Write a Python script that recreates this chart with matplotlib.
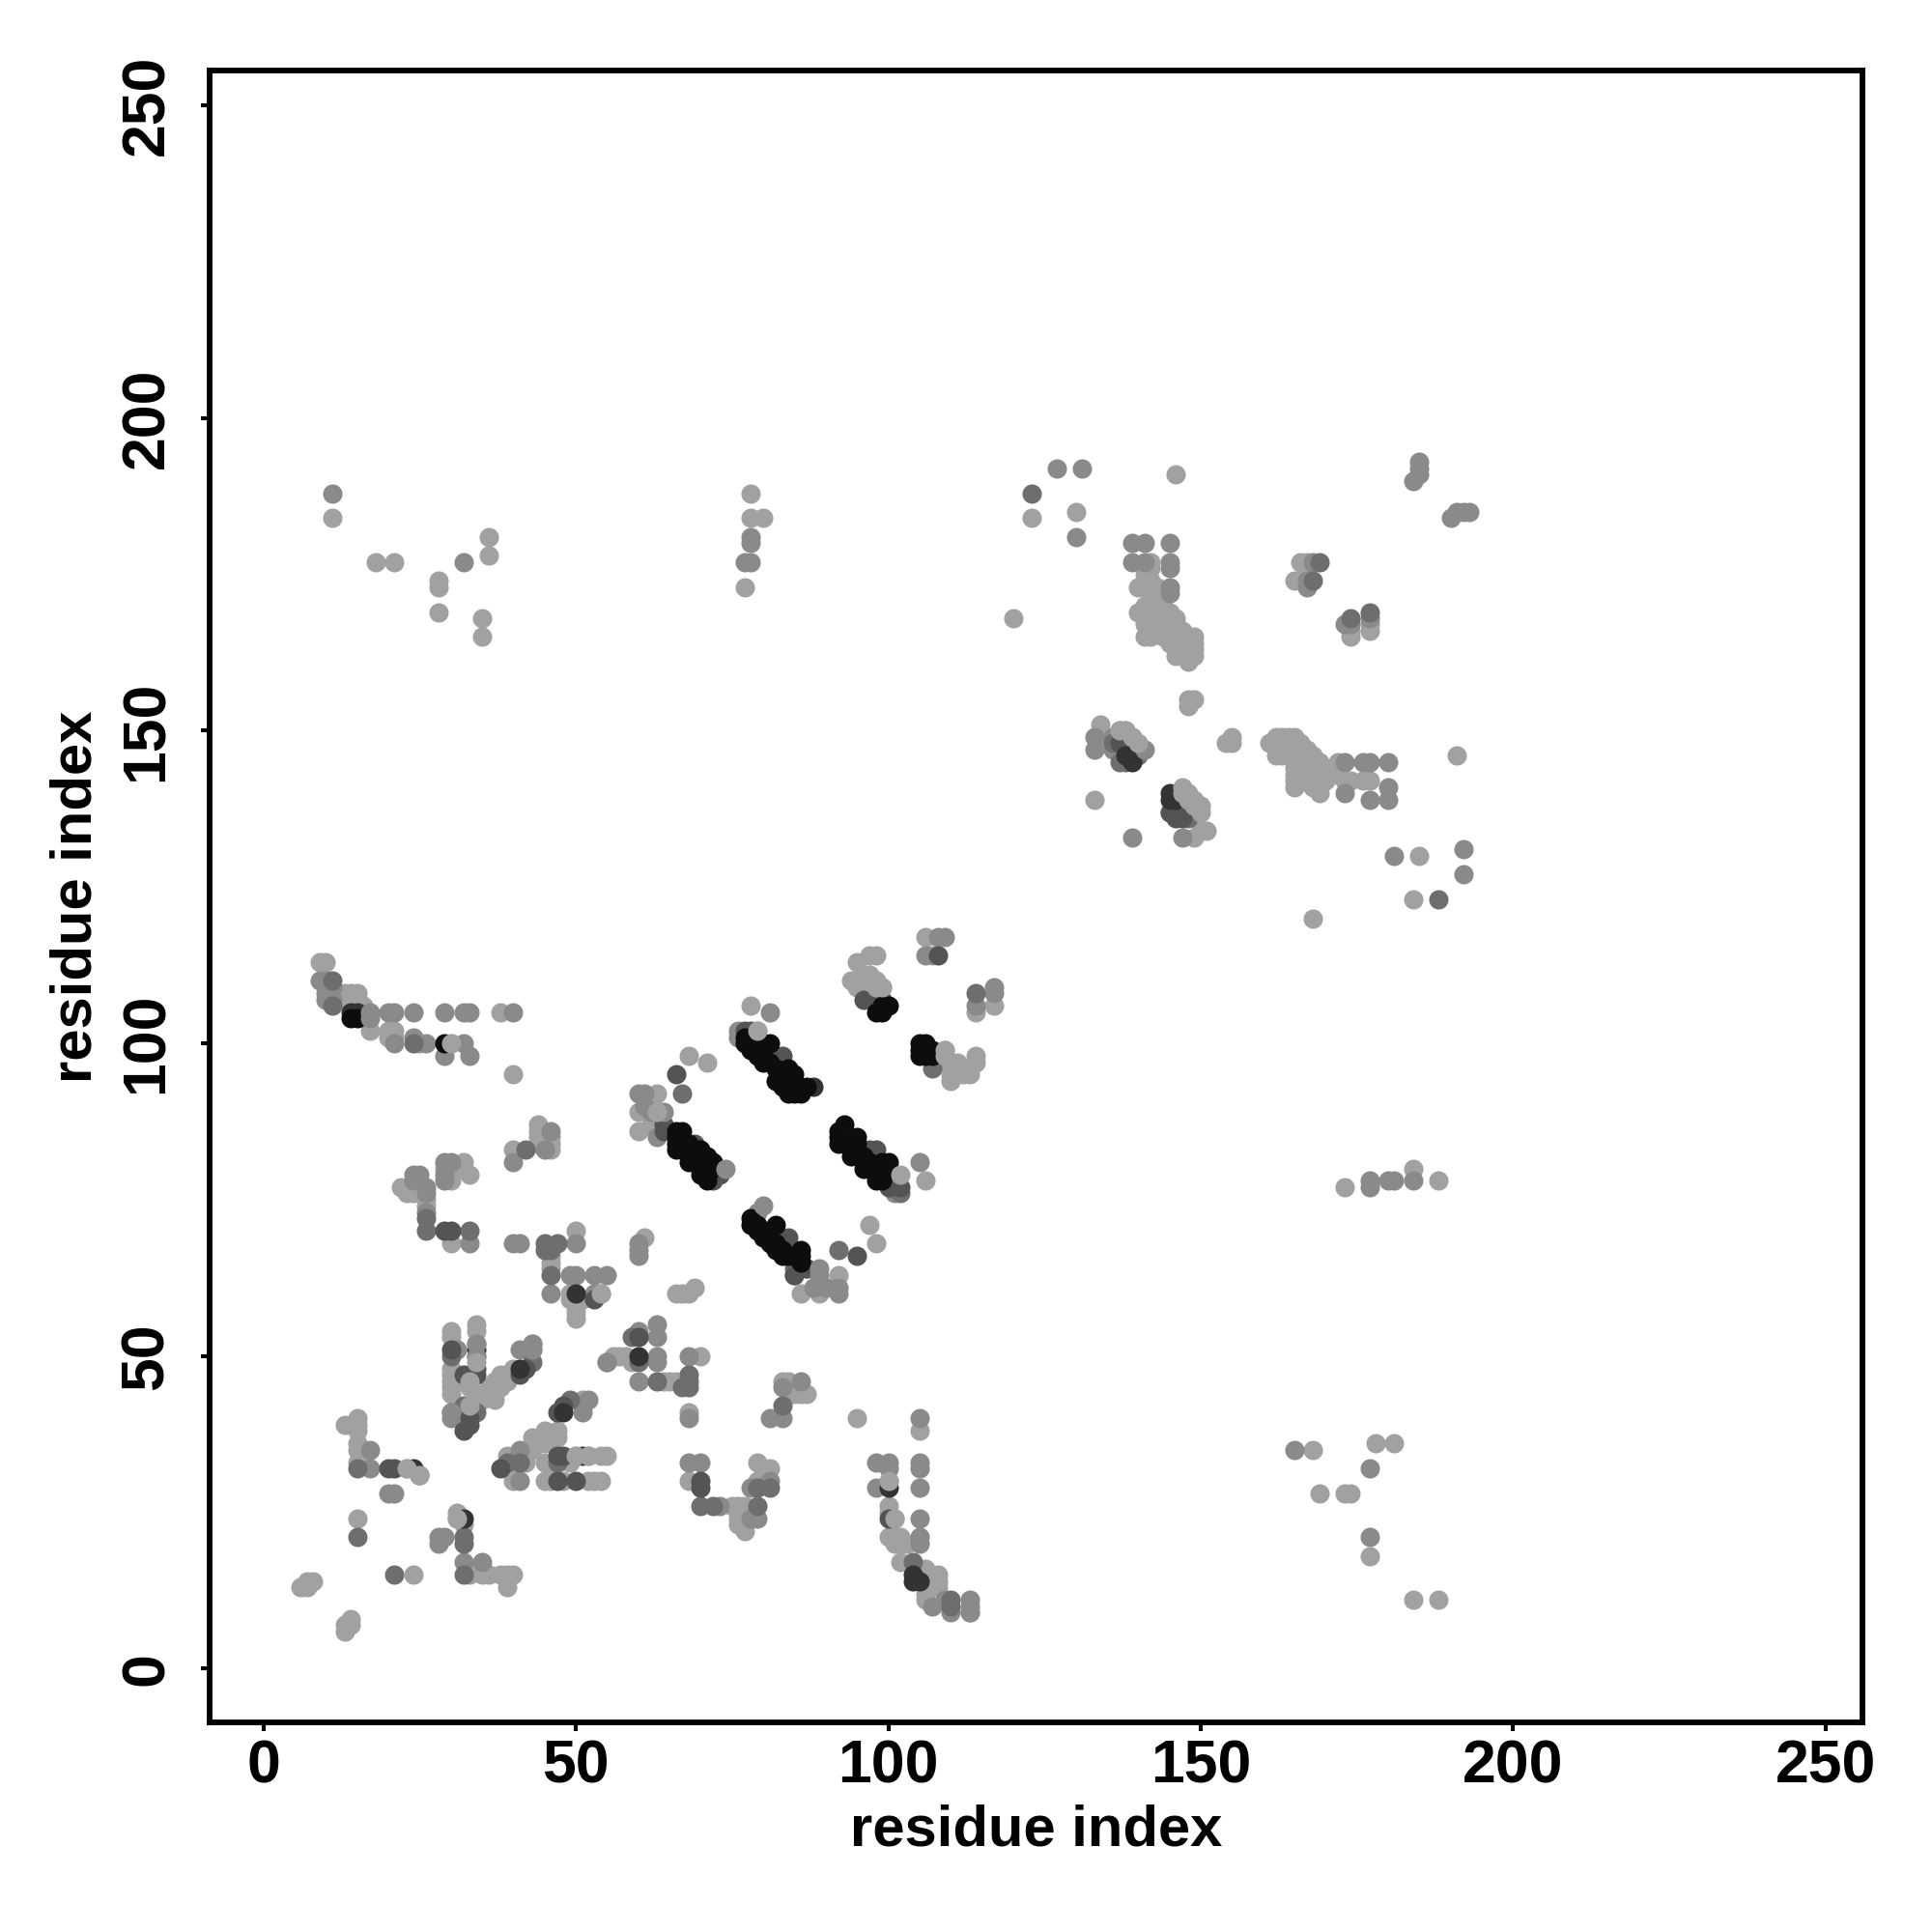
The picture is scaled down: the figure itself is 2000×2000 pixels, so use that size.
import matplotlib
matplotlib.use("Agg")
import matplotlib.pyplot as plt

plt.rcParams['font.family'] = ['Liberation Sans', 'DejaVu Sans']

light = [(6,13),(7,13),(7,14),(8,14),(13,6),(13,7),(14,7),(14,8),(15,24),(13,39),(15,40),(15,39),(15,38),(15,36),(15,35),(15,33),
(23,32),(25,31),(24,15),(31,25),(31,24),(32,23),(33,15),(35,15),(36,15),(38,15),(39,15),(40,15),(39,13),
(30,54),(30,53),(30,48),(30,47),(30,46),(30,45),(30,44),(34,55),(34,54),(35,43),(37,43),(36,45),(38,45),(37,46),(38,47),(36,44),(39,46),(35,44),(40,48),(43,51),
(39,34),(40,33),(43,37),(45,38),(47,38),(47,37),(44,36),(45,36),(43,35),(51,43),(54,34),(55,34),(52,34),(42,33),(45,33),(46,33),(40,30),(45,30),(46,30),(48,30),(52,30),(53,30),(54,30),(49,33),(50,34),
(56,50),(57,50),(58,50),(59,49),(64,46),(66,46),(65,46),(68,41),(70,50),(68,30),(46,64),(46,65),(49,60),(49,59),(50,58),(50,57),(50,56),(54,60),(51,59),
(66,60),(67,60),(68,60),(69,61),(79,33),(81,32),(79,30),(80,30),(75,26),(76,26),(77,26),(76,25),(76,24),(77,24),(76,23),(77,22),(77,25),
(83,46),(84,46),(85,44),(86,44),(87,44),(85,45),(95,40),(105,38),(100,30),(100,26),(100,25),(101,24),(100,21),(101,21),(101,20),(102,21),(102,20),(103,20),(102,17),(106,16),(108,15),(108,14),(108,13),(107,15),(106,12),(106,11),
(86,60),(89,60),(92,63),
(9,113),(10,113),(13,108),(14,108),(15,108),(13,107),(14,107),(16,106),(17,102),(20,102),(21,102),(20,101),(21,101),(25,100),(30,100),(38,105),(40,95),
(22,77),(23,76),(24,76),(25,77),(26,75),(26,74),(30,79),(32,81),(33,79),(29,80),(30,78),(30,68),(40,83),(44,87),(44,86),(44,85),(44,84),(46,85),(46,84),(46,83),(50,70),(46,66),(61,69),
(63,92),(60,89),(63,89),(63,88),(60,86),(62,87),(68,98),(71,97),(78,106),(79,102),(97,71),(98,68),
(106,117),(107,114),(98,114),(97,114),(95,113),(94,110),(95,109),(96,111),(97,111),(97,110),(98,110),(96,110),(99,109),(98,109),
(109,99),(109,98),(109,97),(110,96),(111,97),(111,96),(110,95),(110,94),(112,95),(113,95),(114,98),(114,97),(117,106),(106,78),(114,105),
(146,191),(130,185),(142,177),(142,176),(141,175),(141,174),(142,174),(143,173),(140,173),(141,173),(142,172),(143,172),(140,169),(141,170),(142,170),(143,170),(141,169),(142,169),(143,169),(144,168),(141,168),(142,168),(143,168),(144,170),
(141,167),(142,167),(143,167),(144,167),(145,167),(146,167),(141,165),(142,165),(142,166),(143,166),(144,166),(145,166),(146,166),(147,166),(144,165),(145,165),(146,165),(147,165),(148,165),(149,165),(145,164),(146,164),(147,164),(148,164),(149,164),(146,163),(147,163),(148,163),(149,163),(146,162),(147,162),(148,162),(149,162),(148,161),(145,169),(146,168),
(166,177),(167,177),(165,174),(166,174),(177,166),(177,167),(174,165),(174,166),
(148,154),(148,155),(149,155),(154,148),(155,149),(155,148),(134,151),(134,149),(137,150),(138,150),(139,149),(133,139),
(151,134),(150,134),(149,133),
(161,148),(162,149),(163,149),(164,149),(165,149),(162,147),(163,148),(164,148),(165,148),(166,148),(162,146),(163,146),(164,146),(165,146),(166,147),(167,147),(167,146),(168,146),(166,146),(165,145),(166,145),(167,145),(168,145),(169,145),(165,144),(166,144),(167,144),(168,144),(169,144),
(165,143),(166,143),(167,143),(168,143),(165,142),(165,141),(168,141),(168,142),(169,142),(169,141),(170,142),(169,140),(171,143),(172,145),(173,142),(174,142),(177,142),(176,142),(191,146),
(185,130),(184,123),(168,120),(11,184),(18,177),(21,177),(28,174),(28,173),(36,181),(36,178),(28,169),(35,168),(35,165),(78,188),(78,184),(80,184),(77,173),(120,168),(123,184),(168,35),(169,28),(173,28),(174,28),(178,36),(181,36),(177,18),(184,11),(188,11),(173,77),(184,80),(188,78),(113,9)]

mid = [(17,35),(17,32),(25,31),(20,28),(21,28),(28,20),(29,21),(28,21),(32,17),(35,17),(30,41),(30,40),(31,51),(34,52),(34,50),(43,52),(41,51),
(41,35),(51,41),(52,43),(41,30),(55,49),(60,54),(63,55),(63,53),(63,50),(63,49),(60,46),(68,50),(68,40),(68,33),(70,33),
(49,63),(50,63),(53,63),(55,63),(46,60),(53,60),(73,26),(79,24),(78,24),(81,40),(83,40),(83,45),(86,46),(78,29),(81,30),
(98,33),(100,33),(100,32),(98,29),(105,40),(105,33),(105,32),(105,29),(105,24),(105,21),(105,20),(107,10),(109,11),(110,9),(113,11),(113,10),(92,61),(92,60),(90,61),(88,61),
(9,110),(10,110),(10,108),(11,107),(11,109),(10,107),(20,105),(21,105),(24,105),(29,105),(32,105),(33,105),(40,105),(21,100),(24,101),(26,100),(32,100),(29,98),(33,98),
(24,79),(25,79),(24,78),(26,77),(26,76),(26,73),(29,81),(30,81),(29,79),(29,78),(33,68),(40,68),(41,68),(40,81),(46,86),(45,83),(50,68),(60,68),(60,67),(60,66),
(60,92),(61,92),(63,85),(81,105),(79,73),(76,102),(76,101),(85,63),(105,81),(101,76),(108,117),(109,117),(106,114),(117,109),(117,108),(114,106),
(127,192),(131,192),(130,181),(139,180),(141,180),(145,180),(139,177),(141,177),(145,177),(145,176),(145,173),(145,172),
(168,177),(167,174),(167,173),(177,168),(173,167),(174,167),(185,193),(185,192),(185,191),(184,190),(190,184),(191,185),(192,185),(193,185),
(133,149),(133,147),(136,149),(136,147),(147,133),(139,133),(173,145),(176,145),(177,145),(180,145),(173,140),(180,141),(177,139),(180,139),
(181,130),(192,131),(192,127),(11,188),(32,177),(77,177),(78,177),(78,181),(78,180),(165,35),(177,32),(177,21),(177,78),(177,77),(180,78),(181,78),(184,78),(113,9)]

dmid = [(15,32),(21,15),(15,21),(32,21),(32,20),(32,15),(26,72),(30,50),(32,42),(34,41),(43,49),(49,43),(47,33),(41,33),(39,33),
(68,47),(68,46),(68,45),(67,45),(63,46),(60,49),(59,53),(46,63),(70,26),(72,26),(79,26),(81,29),(79,29),(83,42),(104,17),(110,11),(110,10),(92,67),(85,64),(87,64),
(11,110),(11,106),(24,100),(26,70),(33,70),(42,83),(45,68),(47,68),(46,67),(45,67),(67,92),(102,76),(114,108),(107,96),
(123,188),(169,177),(168,174),(177,169),(174,168),(188,123),(140,146),(136,148),(137,145),(138,145),(145,137),(147,137),(148,136)]

dark = [(20,32),(21,32),(30,51),(34,48),(34,47),(32,47),(33,47),(33,40),(33,39),(32,38),(47,34),(48,34),(38,32),(42,48),(41,47),(47,41),(48,42),(50,30),(47,30),(60,53),(70,30),(70,29),(53,59),
(85,63),(86,64),(87,64),(95,66),(29,70),(30,70),(66,95),(64,87),(64,86),(69,84),(73,80),(72,78),(73,79),(77,102),(78,102),(83,98),(82,98),(84,69),(108,114),(98,83),(97,83),(96,107),(98,107),(99,107),(102,77),(100,77),
(137,148),(138,147),(139,147),(140,147),(146,138),(145,137),(146,136),(147,136),(100,24)]

vdark = [(24,32),(34,51),(32,24),(41,48),(48,41),(51,34),(60,50),(50,60),(14,105),(15,105),(104,15),(104,14),(105,14),(139,145),(138,146),(145,140),(145,139),(146,139),(72,80),(88,93),(100,29)]

black = [(29,100),(14,104),(15,104),(66,86),(67,86),(66,85),(66,84),(66,83),(67,84),(67,83),(68,84),(68,82),(68,81),(69,82),(70,83),(71,82),(70,81),(70,80),(70,79),(71,79),(72,81),(71,78),
(77,100),(78,101),(77,101),(78,100),(78,99),(79,99),(79,98),(81,100),(80,100),(80,98),(80,97),(81,97),(82,96),(83,95),(85,95),(82,94),(83,93),(84,94),(84,92),(85,92),(86,92),(87,93),(85,94),(84,96),
(78,72),(78,71),(79,71),(79,70),(80,70),(80,69),(81,69),(82,71),(81,68),(82,68),(82,67),(83,67),(83,66),(84,66),(86,67),(85,66),(86,66),(86,65),
(93,87),(92,86),(92,85),(92,84),(93,84),(94,84),(94,83),(94,82),(95,85),(95,84),(95,83),(96,82),(96,81),(96,80),(97,81),(97,80),(98,79),(98,78),(100,81),(99,81),(100,80),(99,78),
(98,105),(99,105),(100,106),(99,106),(106,100),(105,100),(105,99),(105,98),(106,99),(106,98),(107,98),(107,99)]

top_mid = [(141,147),(17,105),(17,104),(74,80),(64,89),(80,74),(89,64),(89,63),(62,89),(61,90),(34,52),(34,50),(30,41),(43,51),(43,52),(55,49)]

top_light = [(79,102),(102,79),(30,100),(34,49),(33,45),(101,24),(100,30),(25,31),(23,32),(52,34),(31,24),(137,150),(138,150),(139,149),(140,148),
(147,141),(148,140),(149,139),(150,138),(150,137),(149,138),(148,139),(147,140),(109,98),(109,99),(98,109),(99,109),(97,110),(63,89),(54,60),(33,46),(36,44),(37,45),(38,46),(33,42),(50,34)]

fig = plt.figure(figsize=(10, 10), dpi=200)
ax = fig.add_axes([217/2000, 1 - 1783/2000, (1928 - 217)/2000, (1783 - 73)/2000])

layers = [(light, 0.63), (mid, 0.54), (dmid, 0.43), (dark, 0.33), (vdark, 0.2), (black, 0.05), (top_mid, 0.54), (top_light, 0.63)]
for pts, grey in layers:
    xs, ys = zip(*pts)
    ax.scatter(xs, ys, s=52, color=str(grey), linewidths=0)

ax.set_xlim(-8.6, 255.9)
ax.set_ylim(-8.6, 255.6)
ax.set_xticks([0, 50, 100, 150, 200, 250])
ax.set_yticks([0, 50, 100, 150, 200, 250])
for s in ax.spines.values():
    s.set_linewidth(2.1)
ax.tick_params(axis='y', width=1.5, length=3.4, labelsize=22.5, pad=9.2)
ax.tick_params(axis='x', width=1.5, length=3.4, labelsize=22.5, pad=2.4)
for t in ax.get_xticklabels():
    t.set_fontweight('bold')
for t in ax.get_yticklabels():
    t.set_fontweight('bold')
    t.set_rotation(90)
    t.set_va('center')
ax.set_xlabel('residue index', fontsize=21.5, fontweight='bold', labelpad=3.5)
ax.set_ylabel('residue index', fontsize=21.5, fontweight='bold', labelpad=6)
fig.savefig('out.png', dpi=200, facecolor='white')
